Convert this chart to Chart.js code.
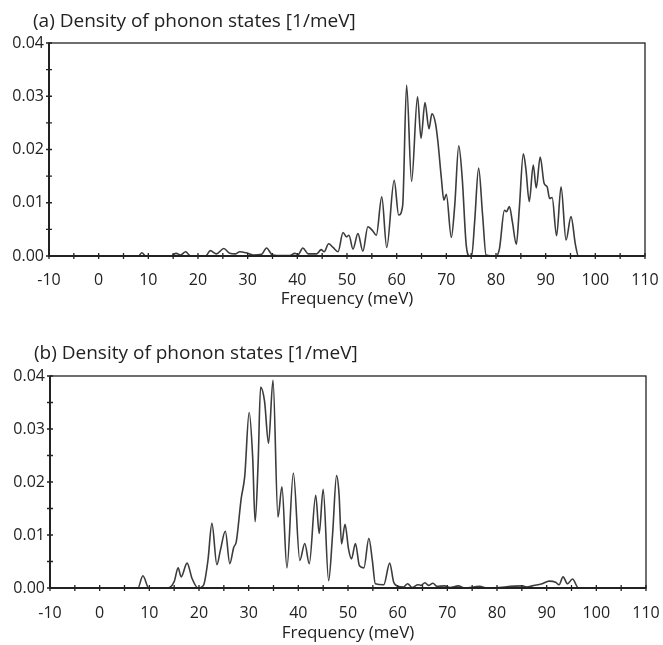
<!DOCTYPE html>
<html>
<head>
<meta charset="utf-8">
<script src="https://cdn.jsdelivr.net/npm/chart.js@4.4.1/dist/chart.umd.min.js"></script>
<style>
  html, body { margin: 0; padding: 0; background: #fff; }
  body { width: 663px; height: 645px; position: relative; overflow: hidden; font-family: 'Open Sans', sans-serif; color: #222; }
  .box { position: absolute; left: 0; width: 663px; }
  #boxA { top: 0; height: 320px; }
  #boxB { top: 320px; height: 325px; }
  .ptitle { position: absolute; font-size: 19px; line-height: 22px; white-space: nowrap; }
  #titleA { left: 33px; top: 9px; }
  #titleB { left: 34px; top: 341px; }
</style>
</head>
<body>
<div class="box" id="boxA"><canvas id="chartA"></canvas></div>
<div class="box" id="boxB"><canvas id="chartB"></canvas></div>
<div class="ptitle" id="titleA"></div>
<div class="ptitle" id="titleB"></div>
<script>
// ---- data ----
const titleA = "(a) Density of phonon states [1/meV]";
const titleB = "(b) Density of phonon states [1/meV]";
const xAxisTitle = "Frequency (meV)";

const freqA = [0, 8, 8.7, 9.5, 14.5, 15.6, 16.5, 17.5, 18.5, 21.5, 22.5, 23.7, 25.2, 26.4, 27.5, 28.4, 29.7, 31.1, 32.8, 33.8, 35.0, 37.1, 38.5, 39.5, 40.2, 41.1, 42.2, 43.9, 44.8, 45.4, 46.3, 47.2, 48.2, 49.2, 49.9, 50.4, 51.2, 52.2, 53.2, 54.2, 55.2, 55.9, 57.0, 58.0, 59.5, 60.4, 61.2, 62.0, 63.0, 64.2, 64.9, 65.7, 66.5, 67.1, 67.8, 68.3, 69.0, 69.5, 70.0, 71.0, 71.7, 72.5, 73.2, 74.0, 74.7, 75.1, 75.7, 76.5, 77.3, 78.0, 80.0, 80.7, 81.7, 82.1, 82.7, 83.3, 84.1, 84.7, 85.5, 86.0, 86.7, 87.5, 88.1, 88.9, 89.7, 90.3, 90.8, 91.3, 92.2, 93.1, 94.1, 95.1, 96.0, 96.6, 100];
const dosA = [0, 0, 0.0006, 0, 0, 0.0005, 0.0002, 0.0008, 0, 0, 0.001, 0.0004, 0.0014, 0.0005, 0.0004, 0.0008, 0.0006, 0.0002, 0.0003, 0.0015, 0.0002, 0.0001, 0.0001, 0.0005, 0.0003, 0.0015, 0.0004, 0.0004, 0.0012, 0.0008, 0.0023, 0.0016, 0.0008, 0.0044, 0.0036, 0.0039, 0.0013, 0.0042, 0.0009, 0.0055, 0.0047, 0.0039, 0.0111, 0.0016, 0.0142, 0.0077, 0.0094, 0.0321, 0.0140, 0.0299, 0.0221, 0.0288, 0.0239, 0.0267, 0.0250, 0.0215, 0.0146, 0.0105, 0.0116, 0.0035, 0.0096, 0.0207, 0.0146, 0.0021, 0, 0, 0.0064, 0.0165, 0.0077, 0.0002, 0, 0.0014, 0.0086, 0.0083, 0.0093, 0.0064, 0.0022, 0.0090, 0.0192, 0.0165, 0.0102, 0.0171, 0.0128, 0.0186, 0.0136, 0.0130, 0.0108, 0.0110, 0.0038, 0.0130, 0.0030, 0.0074, 0.0021, 0, 0];

const freqB = [0, 7.7, 8.7, 9.9, 13.7, 15.0, 15.8, 16.4, 17.6, 18.6, 19.8, 20.9, 21.8, 22.6, 23.6, 24.3, 25.3, 26.2, 27.0, 27.5, 28.5, 29.2, 30.1, 30.8, 31.3, 31.9, 32.4, 33.2, 34.0, 34.9, 35.9, 36.7, 37.7, 39.0, 40.3, 41.3, 42.2, 43.5, 44.2, 45.0, 46.1, 46.9, 47.7, 48.2, 48.7, 49.4, 50.1, 50.7, 51.5, 52.3, 53.2, 54.2, 54.9, 55.5, 57.2, 58.4, 59.2, 60.2, 61.2, 62.0, 62.9, 64.1, 64.7, 65.5, 66.2, 67.1, 67.9, 69.5, 70.5, 72.2, 73.5, 76.5, 78.0, 85.1, 86.0, 87.1, 89.1, 90.5, 91.8, 92.5, 93.3, 94.2, 95.2, 96.4, 100];
const dosB = [0, 0, 0.0023, 0, 0, 0.0012, 0.0038, 0.0021, 0.0047, 0.0018, 0, 0.0005, 0.0052, 0.0122, 0.0044, 0.0071, 0.0107, 0.0046, 0.0077, 0.0087, 0.0169, 0.0210, 0.0331, 0.0248, 0.0125, 0.0235, 0.0379, 0.0352, 0.0273, 0.0392, 0.0134, 0.0191, 0.0038, 0.0217, 0.0052, 0.0084, 0.0046, 0.0175, 0.0103, 0.0186, 0.0014, 0.0102, 0.0212, 0.0177, 0.0083, 0.0120, 0.0074, 0.0055, 0.0084, 0.0042, 0.0038, 0.0094, 0.0052, 0.0008, 0.0006, 0.0047, 0.0011, 0.0003, 0.0002, 0.0008, 0.0001, 0.0006, 0.0005, 0.0010, 0.0005, 0.0009, 0.0003, 0.0004, 0.0001, 0.0004, 0, 0.0003, 0, 0.0004, 0.0002, 0.0004, 0.0008, 0.0013, 0.0011, 0.0006, 0.0021, 0.0008, 0.0017, 0, 0];

const xMin = -10, xMax = 110, xStep = 5, xLabelStep = 10;
const yMin = 0, yMax = 0.04, yStep = 0.005, yLabelStep = 0.01;

document.getElementById('titleA').textContent = titleA;
document.getElementById('titleB').textContent = titleB;

// ---- styling ----
const FONT = "'Open Sans', sans-serif";
const INK = '#222';
const LINE = '#3c3c3c';

const frameTicks = {
  id: 'frameTicks',
  afterDraw(chart) {
    const ctx = chart.ctx, a = chart.chartArea;
    const xs = chart.scales.x, ys = chart.scales.y;
    ctx.save();
    ctx.strokeStyle = INK;
    ctx.lineWidth = 1.3;
    ctx.strokeRect(a.left, a.top, a.right - a.left, a.bottom - a.top);
    ctx.lineWidth = 2;
    ctx.beginPath();
    ctx.moveTo(a.left, a.top); ctx.lineTo(a.left, a.bottom); ctx.lineTo(a.right, a.bottom);
    ctx.stroke();
    ctx.lineWidth = 1.3;
    ctx.beginPath();
    xs.ticks.forEach(t => {
      const px = xs.getPixelForValue(t.value);
      ctx.moveTo(px, a.bottom - 3); ctx.lineTo(px, a.bottom + 3);
    });
    ys.ticks.forEach(t => {
      const py = ys.getPixelForValue(t.value);
      ctx.moveTo(a.left - 3, py); ctx.lineTo(a.left + 3, py);
    });
    ctx.stroke();
    ctx.restore();
  }
};

function isMult(v, step) {
  const r = v / step;
  return Math.abs(r - Math.round(r)) < 1e-6;
}

function makeChart(id, freq, dos, L) {
  const pts = freq.map((f, i) => ({ x: f, y: dos[i] }));
  return new Chart(document.getElementById(id), {
    type: 'line',
    data: {
      datasets: [{
        data: pts,
        borderColor: LINE,
        borderWidth: 1.6,
        pointRadius: 0,
        fill: false,
        cubicInterpolationMode: 'monotone'
      }]
    },
    options: {
      responsive: true,
      maintainAspectRatio: false,
      animation: false,
      layout: { padding: { left: 0, right: L.padRight, top: L.padTop, bottom: 0 } },
      plugins: {
        legend: { display: false },
        tooltip: { enabled: false },
        title: { display: false }
      },
      scales: {
        x: {
          type: 'linear',
          min: xMin, max: xMax,
          grid: { display: false, drawTicks: false },
          border: { display: false },
          ticks: {
            stepSize: xStep,
            autoSkip: false,
            maxRotation: 0,
            padding: L.xTickPad,
            color: INK,
            font: { family: FONT, size: 16 },
            callback: v => isMult(v, xLabelStep) ? String(v) : ''
          },
          title: {
            display: true,
            text: xAxisTitle,
            color: INK,
            font: { family: FONT, size: 17, lineHeight: 1.2 },
            padding: { top: 0, bottom: L.xTitlePadBottom }
          },
          afterFit: s => { s.height = L.xAxisH; s.paddingLeft = 0; s.paddingRight = 0; }
        },
        y: {
          type: 'linear',
          min: yMin, max: yMax,
          grid: { display: false, drawTicks: false },
          border: { display: false },
          ticks: {
            stepSize: yStep,
            autoSkip: false,
            padding: 5,
            color: INK,
            font: { family: FONT, size: 16 },
            callback: v => isMult(v, yLabelStep) ? v.toFixed(2) : ''
          },
          afterFit: s => { s.width = L.yAxisW; s.paddingTop = 0; s.paddingBottom = 0; }
        }
      }
    },
    plugins: [frameTicks]
  });
}

makeChart('chartA', freqA, dosA, { padTop: 43, padRight: 18, xAxisH: 64, xTickPad: 15, xTitlePadBottom: 11, yAxisW: 49 });
makeChart('chartB', freqB, dosB, { padTop: 56, padRight: 17, xAxisH: 57, xTickPad: 16, xTitlePadBottom: 2, yAxisW: 50 });
</script>
</body>
</html>
